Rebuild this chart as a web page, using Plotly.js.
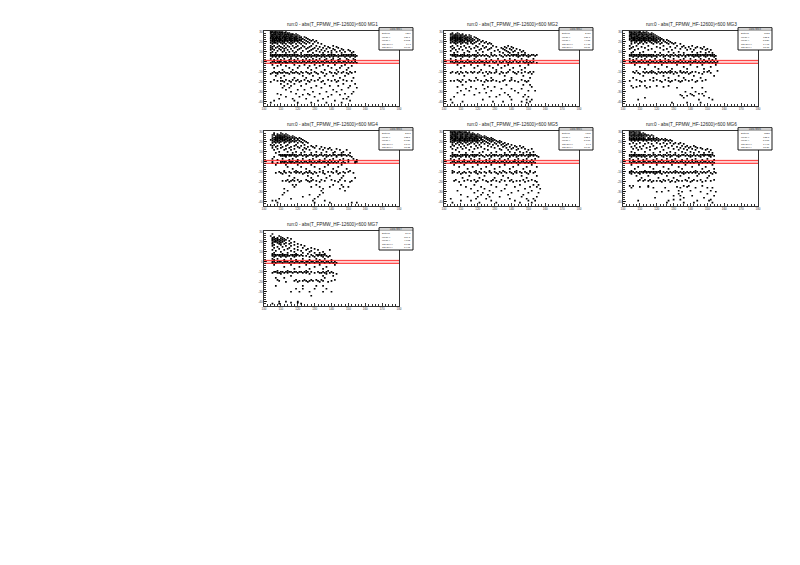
<!DOCTYPE html>
<html><head><meta charset="utf-8">
<script src="https://cdn.plot.ly/plotly-3.0.1.min.js"></script>
<style>html,body{margin:0;padding:0;background:#fff}</style></head>
<body><div id="c" style="width:800px;height:565px"></div>
<script>
// Each row: first number = y, remaining numbers = x values.
const mg1=[
[31,104,105,107,109],[30,104,105,106,107,108,110,111,113],[29,104,105.5,107,108,109.5,111,112,114,115],
[28,104,106,107,108.5,110,111,113,114,116,117,119],[27,104.5,105.5,107,108,110,111,112,113.5,115,116,118,120],
[26,104,105,106,107.5,109,110,112,113,114.5,116,117,119,121],[25,105,106,107,108,110,111,112.5,114,115,117,118,120,122,124],
[24,104,105.5,107,108,109,111,112,113,115,116,118,119,121,122,125],[23,104,106,107,108.5,110,111,113,114,116,117,119,120,123,126],
[22,105,106,107.5,109,110,112,113,115,116,118,119,121,122,124,127,129],[21,104,105,107,108,110,111,113,114,116,117,119,120,122,125,128,131],
[20,105,106,108,109,111,112,114,116,118,120,123,126,130],[19,104,106,107,110,112,115,117,121,124,127,132],
[29.5,104.5,106.5,109,110.5,112.5],[27.5,105,106.5,109,112.5,114.5,117],[25.5,104.5,107.5,109,111.5,113.5,116,119],[23.5,105,107.5,109.5,112.5,115,118],[21.5,106,109,112,115,118,121],
[18,105,108,111,113,116,119,122,125,129,134],[16,104,106,109,112,114,117,120,123,128,131,136,141],
[15,105,108,110,115,119,124,127,133,138,143],[14,104,107,111,113,118,122,126,130,135,139,144],
[13,105,109,112,116,121,125,129,132,137,141,146],[12,104,106,110,114,120,128,134,142,147,150],[11,108,112,117,123,127,131,136,140,145,151],
[10,105,111,115,119,126,133,138,143,148,153],[9,104,107,113,118,122,129,135,140,146,152],
[7,104,105,106,107,108,109,110,111,112,113,114,115,116,117,118,119,120,122,124,125,126,127,128,130,131,132,134,135,136,138,139,140,141,142,144,146,147,148,149,150,151,152,153,154],
[6,104,105,106,107.5,109,110,112,113,115,117,118,120,121,123,125,127,129,130,132,133,135,137,138,140,142,143,145,146,147,149,150,152,153,155],
[5,105,107,109,111,114,116,119,122,124,126,128,131,134,136,139,141,144,148,151,154],
[3,104,108,112,116,120,125,129,133,137,141,145,149,153],[2,106,110,115,118,123,127,131,136,140,144,150,154],
[0,105,106,108,109,110,112,113,115,116,118,119,121,123,124,126,127,129,130,132,134,135,137,138,140,142,144,145,147,148,150,152,154],
[-1,104,107,109,111,113,114,117,120,122,125,128,131,133,136,139,141,143,146,149,151,153,155],[-3,105,110,118,124,130,135,142,148],
[-4,108,113,121,127,133,138,146,152],[-6,106,115,120,126,131,140,145,150],[-8,111,117,128,136,143,149],
[-10,106,109,112,116,119,122,125,130,134,139,144,147,151,154],[-11,105,107,108,110,111,113,114,117,118,120,123,126,128,131,135,140,142,146,149,152],
[-12,104,108,115,121,127,132,137,143,150],[-14,107,112,123,129,136,141,148],[-16,110,118,125,133,145,153],
[-18,106,113,117,120,124,128,132,138,142,147],[-19,108,110,111,115,119,122,126,130,135,140,144,149,152],[-20,104,112,116,121,127,134,143],
[-22,110,114,118,125,136,147,154],[-24,112,116,122,131,139,144,151],[-26,111,115,128,134,150,155],[-28,113,120,124,141,146],
[-30,116,129,137,143,153],[-32,108,119,126,133,148,152],[-33,110,123,127,140,145],[-35,113,121,130,138,150],[-37,109,117,125,135,147,149],[-39,106,118,132,142,151],[-41,104,120,128,137,146]];
const mg2=[
[29,105,108],[28,104,105,107,109,111],[27,104,106,107,108,110,111,113,115],[26,105,106,107,108,109,110,112,113,116],
[25,104,105,106,107,108,110,111,112,114,115,118],[24,104,105,106,107,108,109,110,111,113,114,116,119],[23,104,105,106,107,108,109,110,112,113,115,117,120],
[22,104,105,107,108,109,110,111,113,114,116,118,121],[21,104,106,107,108,110,111,112,114,115,117,120,123],[20,105,107,109,110,112,114,116,119,122,125],
[19,104,106,108,111,113,116,118,124,127],[18,107,110,114,117,121,126,128],[16,105,108,112,119,123,129,138],[15,104,110,115,120,125,131,136,140],
[14,106,113,118,124,128,134,137,141],[13,105,109,116,122,127,135,139,143],[12,107,111,121,126,132,136,140,145],[11,104,114,119,130,137,142,147],
[10,108,115,123,133,138,141,146],[9,106,112,120,128,135,139,144,148],[7,104,105,106,107,108,110,111,112,114,115,117,118,119,121,123,125,128,130,133,136,138,140,141,142,143,144,146,147,148,150,152,153,155],
[6,105,106,108,109,110,112,113,114,116,118,120,122,124,126,129,131,134,137,139,141,143,145,147,149,151,154],[5,107,111,115,119,127,135,144,150],[3,104,110,118,125,132,139,146,153],[2,107,114,121,128,136,142,149],
[0,104,105,107,108,110,111,113,115,116,118,120,122,123,125,127,129,131,133,135,137,139,141,143,145,147,149,151,153],[-1,106,109,112,114,117,119,121,124,126,130,134,138,140,144,148,150,152,155],
[-3,108,116,124,132,138,150],[-4,112,120,127,136,145],[-6,110,118,129,134,141,148],[-8,122,131,139,146],
[-10,105,108,110,113,116,118,121,125,127,131,134,138,141,144,148,151,153],[-11,104,107,111,114,117,120,123,128,130,135,137,142,146,150],[-12,109,126,133,143,152],
[-14,112,124,136,147],[-16,119,128,140,151],[-18,108,111,115,120,125,129,136,140,146],[-19,104,106,109,116,118,122,126,128,131,135,139,142,148,150],[-20,110,113,124,133,144,149],
[-23,111,123,137,147,151],[-25,108,116,126,130,152],[-27,113,119,124,134,140,146],[-29,110,115,128,142,150,154],[-31,108,121,125,136,144],[-33,112,118,133,138,148],[-35,106,127,131,139,147,150],[-38,104,123,140,149,152],[-40,111,129,135,146,151],[-41,105,149]];
const mg3=[
[31,104,106,108,110],[30,104,105,107,109,110,112,114],[29,104,105,106,108,109,111,112,115,117],[28,105,106,107,108,110,111,113,114,116,118],
[27,104,105,106,108,109,110,112,113,115,116,119],[26,104,105,107,108,109,111,112,114,115,117,118,120],[25,104,106,107,108,110,111,113,114,116,117,119,121],
[24,105,106,107,109,110,112,113,115,116,118,120,122],[23,104,105,107,108,110,111,112,114,116,117,119,121,123],[22,104,106,107,109,110,112,113,115,117,118,120,122,124,126],
[21,105,107,108,110,111,113,115,116,118,120,122,124,127],[20,105,108,111,113,116,119,121,125,128],[19,107,110,114,117,120,123,126,129,131],
[29.5,105,107,110,113],[27.5,104.5,107,109.5,111.5,114,117],[25.5,105,108.5,111.5,114.5,118],[23.5,106,108.5,111,113,115,118],[21.5,106,109,112,114,117,119],
[18,105,109,112,118,122,127,130,134],[16,104,108,115,124,132,136,141],[15,106,111,120,128,135,139,144,148],[14,105,113,122,131,137,143,146],
[13,104,109,117,126,134,140,147,150],[12,107,115,124,129,138,142,149,152],[10,106,112,119,127,133,141,146,151],[9,105,110,122,130,136,144,149,153],
[7,104,105,106,107,108,109,110,111,112,113,114,115,116,117,118,120,121,123,124,126,128,129,131,133,134,136,138,139,140,141,142,143,144,145,146,147,148,149,150,151,152,153,154],
[6,104,105,107,108,110,112,113,115,116,118,119,122,125,127,130,132,135,137,139,141,143,144,146,148,150,152,153,155],[5,106,109,111,114,117,120,124,128,133,137,142,145,149,154],
[3,104,108,113,119,125,130,136,140,146,151,155],[2,106,111,116,122,127,134,143,148,153],
[0,104,106,107,109,110,112,114,115,117,118,120,122,123,125,127,128,130,132,133,135,137,139,140,142,143,145,147,149,150,152,154,156],[-1,105,108,111,113,116,119,121,124,126,129,131,134,136,138,141,144,146,148,151,153,155],
[-3,107,115,123,132,140,147,155],[-5,110,119,126,136,144,152],[-7,113,121,129,138,148],[-9,108,117,128,134,151,156],
[-10,106,112,114,116,118,121,123,125,127,129,131,134,136,138,141,143,148,150],[-11,107,109,113,115,117,119,122,124,126,128,132,135,137,140,145,152],[-12,110,120,130,139,147],
[-14,112,124,133,142,154],[-16,106,118,127,136,146],[-18,108,116,120,125,131,137,141,149],[-19,104,110,113,118,122,127,129,133,135,139,144,147],[-20,111,123,128,134,143],
[-24,105,110,113,120,127],[-25,108,116,124],[-26,106,114,132,141,147],[-30,137,143,149],[-32,140,145,147],[-33,134,141],[-34,135,138,142,148],[-36,113,136,151],[-38,109,145,153],[-41,129,138,146]];
const mg4=[
[29,106,110],[28,106,108,111,113],[27,105,106,108,109,110,112,114],[26,107,108,109,110,111,112,113,115,117],[25,105,107,108,109,110,111,112,113,114,116,118],
[24,106,107,108,109,110,111,112,114,115,117,119,121],[23,105,107,108,109,110,111,113,114,116,118,120,122],[22,104,106,107,108,110,111,112,113,115,116,118,120,123],
[21,105,107,108,109,111,112,114,115,117,119,121,124],[20,106,108,110,113,116,118,122,125],[19,105,107,109,112,115,120,123,126],[17,104,106,110,114,119,124],
[16,105,108,113,118,122,128,131],[15,107,111,116,120,126,129,134],[14,105,110,115,121,124,130,136,139],[13,108,113,118,125,133,138,143],
[12,106,112,116,123,127,135,140,145,149],[10,109,114,119,124,131,137,142,147],[9,107,117,122,128,134,141,146,151],
[7,109,110,111,112,113,114,115,116,117,118,119,121,122,124,125,127,128,130,131,133,134,136,137,139,141,142,144,145,146,147,148,150],[6,110,111,112,113,115,116,118,120,123,126,129,132,135,138,140,143,146,149,151],
[5,106,113,119,125,131,137,143,152],[3,105,111,117,123,129,136,141,147,153],[2,108,115,120,127,133,139,145,150,155],
[0,105,110,111,112,113,115,116,117,119,120,122,124,125,127,128,130,132,133,135,136,138,140,142,144,147,150,154,155],[-1,105,108,110,112,114,116,118,121,123,126,129,131,134,137,139,141,143,146,148,154],
[-3,107,113,120,128,138,146],[-5,114,122,130,136,144],[-7,117,125,133,141,149],[-9,112,119,127,135,143,151],
[-10,109,112,115,118,120,122,125,127,130,133,138,140,143,147,150],[-11,107,110,113,116,119,121,124,126,128,131,135,141,145,148,153],[-12,111,123,129,136,144],
[-14,115,126,132,139,147],[-16,118,128,137,146,154],[-18,114,117,120,125,129,134,140,145],[-19,111,113,116,118,122,126,128,131,136,142,148,152],[-20,115,121,127,133,144,151],
[-23,117,119,131,141,146],[-25,118,128,133,139,147,150],[-27,112,135,145],[-29,114,134,148],[-31,112,135],[-33,111,127,133],[-35,123,132],[-37,109,116,130],
[-39,105,107,129,136],[-41,108,130,139,152,155]];
const mg5=[
[31,104,106,107,109,111],[30,104,105,106,108,109,110,112,113,115],[29,104,105,107,108,109,111,112,114,115,117],[28,105,106,107,108,110,111,113,114,116,118,120],
[27,104,105,106,107,109,110,112,113,115,116,118,119,121],[26,104,106,107,108,110,111,113,114,116,117,119,120,122,124],[25,105,106,108,109,111,112,114,115,117,118,120,121,123,125],
[24,104,105,107,108,110,111,113,115,116,118,119,121,122,124,126,128],[23,105,106,108,109,111,112,114,116,117,119,120,122,125,127,129],[22,104,106,107,109,110,112,113,115,117,118,120,122,123,126,128,130],
[21,105,107,108,110,111,113,115,116,118,120,121,124,127,129,131,133],[20,104,106,109,112,114,117,119,123,125,128,132,134],[19,105,108,110,113,116,120,122,126,130,133,136],
[29.5,105,106.5,110,113],[27.5,105,108,111,114,117],[25.5,104.5,107,110,113,116,119],[23.5,104.5,107,110,113,115,118],[21.5,106,109,112,114,117,119],
[18,107,111,115,118,124,127,131,135,138],[17,105,109,114,121,129,134,137,140],[16,106,112,119,126,132,136,142,145],[15,104,110,116,122,128,135,139,143,147],
[14,108,113,120,130,137,141,146],[13,105,111,118,124,133,140,144,148,152],[12,107,115,126,134,138,143,150],[10,109,117,123,131,139,145,149,153],[9,105,113,121,128,136,142,147,151],
[7,105,106,107,108,110,111,112,113,114,116,117,118,119,120,122,125,127,129,130,131,133,134,136,137,138,140,141,142,143,145,146,147,149,150,151,152,153,154],
[6,104,106,108,109,111,113,115,117,119,121,123,126,128,130,132,135,137,139,141,144,146,148,151,153,155],[5,105,107,110,113,115,118,124,128,134,139,143,150,156],[3,104,109,116,121,127,133,138,144,149,154],[2,106,112,118,125,130,136,142,147,152],
[0,105,106,108,109,111,112,114,115,117,118,120,121,123,125,127,129,130,132,134,135,137,139,141,142,144,146,147,149,151,153],[-1,104,107,110,113,116,119,122,124,126,128,131,133,136,138,140,143,145,148,150,152,154],
[-3,106,112,120,128,136,144,152],[-5,109,117,125,133,141,149,155],[-7,114,122,130,139,147],[-9,105,119,127,135,143,151],
[-10,106,109,112,115,118,121,124,127,130,133,136,139,142,145,148,151,154],[-11,105,108,111,113,116,119,122,125,128,131,134,137,140,143,146,149,153],[-12,110,120,132,141,150],
[-14,115,124,135,146,155],[-16,111,121,130,138,149],[-18,107,114,118,123,129,134,140,147,152],[-19,106,112,116,120,125,128,131,136,139,143,145,150,154],[-20,109,119,126,133,141,148,155],
[-23,110,118,128,137,145,153,156],[-25,113,122,131,142,151,155],[-27,116,124,136,148,157],[-29,108,120,127,134,144,152],[-31,118,123,129,140,150,156],[-33,110,122,126,138,147],
[-35,114,120,127,133,146,155],[-37,104,119,125,139,149,153],[-39,110,116,128,142,150,154],[-41,105,121,131,145,152]];
const mg6=[
[31,104,106,108],[30,104,105,106,107,109,110],[29,104,105,107,108,110,112],[28,104,106,107,109,110,111,113],[27,104,105,106,107,108,109,110,111,112,113,114,115,117],
[26,104,105,106,107,108,109,110,111,112,114,116,118],[25,105,107,109,111,113,116],[24,104,106,108,110,112,115,118,120],[23,104,105,106,107,108,109,110,111,112,113,115,116,117,118,119,121,123,125],
[22,104,105,106,107,108,109,110,111,112,113,114,115,116,118,120,122,124,126,128],[21,105,107,109,112,114,117,119,121,125,127,129],[19,106,110,115,120,124,128,131,134],
[18,104,108,113,117,122,126,130,133,136],[16,107,112,118,125,129,135,138,142],[15,105,110,116,123,132,137,140,143],[14,108,114,120,127,134,139,144,146],
[13,106,111,119,130,136,141,147,150],[12,109,116,124,133,138,143,149,152],[10,105,113,122,128,135,140,145,151],[9,107,118,126,131,137,142,148,153],
[7,104,105,106,107,108,109,110,111,112,113,115,116,118,119,121,122,124,125,127,128,130,131,133,135,136,138,140,142,144,146,147,148,149,150,151,152,153],[6,104,106,107,109,110,112,114,117,120,123,126,129,132,134,137,139,141,143,145,148,151,154],[5,105,108,111,113,116,119,124,128,133,140,146,152],
[3,104,109,114,120,126,131,138,143,150],[2,106,112,118,123,129,135,141,147,154],
[0,104,106,107,109,110,112,113,115,116,118,119,121,122,124,126,127,129,130,132,134,135,137,139,141,143,144,146,148,149,151,153],[-1,105,108,111,114,117,120,123,125,128,131,133,136,138,140,142,145,147,150,152,154],
[-3,105,112,120,129,137,145,153],[-5,109,116,124,133,141,149],[-7,107,118,127,135,147,154],[-9,105,113,122,131,143,151],
[-10,104,105,106,108,110,111,112,113,114,115,116,117,118,119,120,121,122,124,126,128,130,132,134,136,138,140,142,144,146,148,150,154],[-11,104,107,109,112,114,116,118,120,122,125,127,129,131,133,135,137,139,141,143,147,149,152,155],[-12,105,110,119,123,136,145,153],
[-14,108,115,126,134,144,151],[-16,111,121,130,139,150],[-18,110,113,116,124,127,132,137,142,146,154],[-19,109,112,115,118,120,122,125,129,133,135,138,141,144,149,152],[-20,117,123,128,131,140,147],
[-24,104,106,115,136,139,147],[-25,110,115,132,138],[-26,105,118,125,134,143,150,153],[-29,127,133,140,152],[-30,120,123,135,146,155],[-32,133,150],[-34,130,134,141,154],[-36,119,136,148],[-38,130,134,152],[-39,109,127,144,151],[-41,126,136,142,153]];
const mg7=[
[28,105],[26,104,109],[25,106,110],[24,105,106,108,111,114],[23,105,107,108,110,112,116],[22,105,106,108,109,111,113],[21,105,107,108,110,112,115],[20,106,107,109,111,118],
[19,105,108,110,113,116],[18,105,109,112,115,120],[17,106,110,118,122],[16,105,113,116,124],[15,108,111,120],[14,106,115,123,128],[13,109,114,118,126,130],[12,105,112,120,125,132,139],[11,107,116,122,128],
[10,110,118,127,135],[9,106,114,123,130,133],[8,105,111,119,126,136],[7,105,106,107,108,109,110,111,112,113,114,116,117,118,119,120,122,128,131,132,133,134,135,136],
[6,105,107,109,111,112,114,115,117,119,121,123,125,129,132,134,137,139],[5,106,110,113,118,127,130,135,138],[3,105,108,116,123,131,136],[2,106,112,119,127,133,140],
[0,105,106,108,109,110,112,113,114,116,117,119,120,122,123,125,126,128,129,131,132,134,135,137,138,140,142],[-1,105,107,111,115,118,121,124,127,130,133,136,139,141,143],
[-3,106,116,125,133,142],[-5,112,121,130,137],[-7,118,127,135],
[-9,108,114,125,138],[-10,106,107,110,111,113,115,116,118,119,121,122,124,126,128,132,135,137,140],[-11,105,108,109,112,114,117,120,123,125,130,133,134,136,139,141],[-12,110,127,137,143],
[-14,116,135,141],[-16,107,112,136],[-18,108,119,124,128,131,134,142],[-19,109,118,121,123,125,127,129,132,135,140],[-20,113,120,126,133,138],
[-24,107,123,131,135],[-27,119,123,130,137],[-30,116,121,127,135,140],[-34,128],[-40,109,113,120],[-41,116,120],[-42,105,109,122]];
const panelNames=['MG1','MG2','MG3','MG4','MG5','MG6','MG7'];
const panelRows=[mg1,mg2,mg3,mg4,mg5,mg6,mg7];
const panelLeft=[264,444,623,264,444,623,264];
const panelTop=[31,31,31,131,131,131,231];
const statEntries=[4216,2480,3952,2763,4105,3528,1143];
const statMeanX=[121.1,121.3,122.2,122.5,122.1,122.3,117.8];
const statMeanY=[5.862,4.915,5.526,5.021,5.773,5.765,4.072];
const statStdX=[14.7,14.75,14.95,13.96,14.7,14.98,10.52];
const statStdY=[16.03,15.81,15.18,15.22,16.17,15.27,14.95];
const yTicks=[30,20,10,0,-10,-20,-30,-40];
const xRange=[100,180], yRange=[-44,31], bandLow=-1.5, bandHigh=1.5;
const W=800,H=565,pw=135,ph=74.7;
const font='"Liberation Sans",Arial,sans-serif';
const traces=[],shapes=[],annotations=[];
const layout={width:W,height:H,margin:{l:0,r:0,t:0,b:0},paper_bgcolor:'#fff',plot_bgcolor:'#fff',showlegend:false,font:{family:font,color:'#000'}};
const px=v=>v/W, py=v=>1-v/H;
const note=(x,y,text,size,anchor,color)=>annotations.push({xref:'paper',yref:'paper',x:px(x),y:py(y),text,showarrow:false,xanchor:anchor,yanchor:'middle',font:{size,family:font,color:color||'#000'},borderpad:0});
panelRows.forEach((rows,i)=>{
  const n=i===0?'':String(i+1), L=panelLeft[i], T=panelTop[i];
  const xs=[],ys=[];
  rows.forEach(r=>r.slice(1).forEach(x=>{xs.push(x);ys.push(r[0]);}));
  traces.push({x:xs,y:ys,xaxis:'x'+n,yaxis:'y'+n,type:'scatter',mode:'markers',marker:{size:1.7,color:'#000',symbol:'square',line:{width:0}},hoverinfo:'skip',cliponaxis:true});
  [bandLow,bandHigh].forEach(b=>traces.push({x:xRange,y:[b,b],xaxis:'x'+n,yaxis:'y'+n,type:'scatter',mode:'lines',line:{color:'#f00',width:0.8},hoverinfo:'skip'}));
  shapes.push({type:'rect',xref:'x'+n,yref:'y'+n,x0:xRange[0],x1:xRange[1],y0:bandLow,y1:bandHigh,fillcolor:'rgba(255,0,0,0.18)',line:{width:0},layer:'below'});
  layout['xaxis'+n]={domain:[px(L),px(L+pw)],range:xRange,anchor:'y'+n,showgrid:false,zeroline:false,showline:true,mirror:true,linecolor:'#000',linewidth:0.8,
    ticks:'inside',ticklen:2.5,tickwidth:0.8,tickcolor:'#000',dtick:10,tick0:100,tickfont:{size:3,family:font,color:'#333'},
    minor:{ticks:'inside',ticklen:1.5,tickwidth:0.8,tickcolor:'#000',dtick:2}};
  layout['yaxis'+n]={domain:[py(T+ph),py(T)],range:yRange,anchor:'x'+n,showgrid:false,zeroline:false,showline:true,mirror:true,linecolor:'#000',linewidth:0.8,
    ticks:'inside',ticklen:3,tickwidth:0.8,tickcolor:'#000',tickmode:'array',tickvals:yTicks,ticktext:yTicks.map(String),tickfont:{size:3,family:font,color:'#333'},
    minor:{ticks:'inside',ticklen:1.5,tickwidth:0.8,tickcolor:'#000',dtick:2}};
  note(L+68,T-6.5,'run:0 - abs(T_FPMW_HF-12600)&lt;600 '+panelNames[i],4.7,'center','#222');
  const R=L+pw, bl=R-20, br=R+14, bt=T-3.3, bb=T+19;
  shapes.push({type:'rect',xref:'paper',yref:'paper',x0:px(bl),x1:px(br),y0:py(bb),y1:py(bt),fillcolor:'#fff',line:{color:'#000',width:0.9},layer:'above'});
  shapes.push({type:'line',xref:'paper',yref:'paper',x0:px(bl),x1:px(br),y0:py(bt+2.4),y1:py(bt+2.4),line:{color:'#000',width:0.5},layer:'above'});
  note((bl+br)/2,bt+1.3,'Data '+panelNames[i],2.6,'center','#333');
  const labels=['Entries','Mean x','Mean y','Std Dev x','Std Dev y'];
  const vals=[statEntries[i],statMeanX[i],statMeanY[i],statStdX[i],statStdY[i]];
  const rowY=[6.2,10,13,17.2,20];
  labels.forEach((t,k)=>{note(bl+1.5,bt+rowY[k],t,2.5,'left','#333');note(br-1.5,bt+rowY[k],String(vals[k]),2.5,'right','#333');});
});
layout.shapes=shapes;layout.annotations=annotations;
Plotly.newPlot('c',traces,layout,{staticPlot:true,displayModeBar:false});
</script></body></html>
